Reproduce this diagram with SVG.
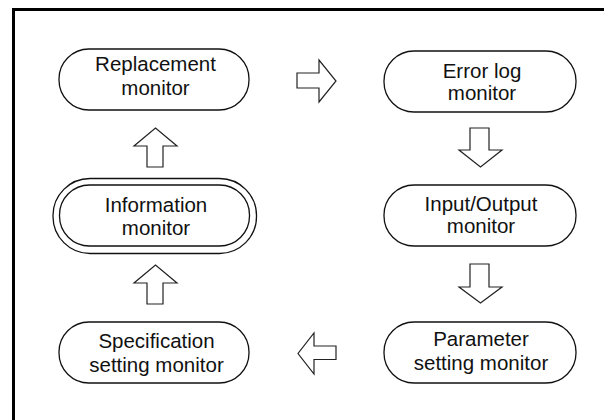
<svg xmlns="http://www.w3.org/2000/svg" width="604" height="420" viewBox="0 0 604 420">
<style>
.node{fill:#fff;stroke:#111;stroke-width:1.3}
.arr{fill:#fff;stroke:#222;stroke-width:1.2;stroke-linejoin:miter}
.t{font-family:"Liberation Sans",Arial,sans-serif;font-size:20.5px;fill:#111;text-anchor:middle}
.frame{stroke:#000;stroke-width:3;fill:none}
</style>
<rect x="0" y="0" width="604" height="420" fill="#fff"/>
<path class="frame" d="M13.5,420 V9.5 H604"/>
<g id="connectors">
<polygon class="arr" points="297,73 319,73 319,60 336,81 319,102 319,88 297,88"/>
<polygon class="arr" points="470,128 489,128 489,150 502,150 480.5,167 459,150 470,150"/>
<polygon class="arr" points="470,264 489,264 489,287 502,287 480.5,303 459,287 470,287"/>
<polygon class="arr" points="336,346 314,346 314,333 298,353.5 314,374 314,359.5 336,359.5"/>
<polygon class="arr" points="147,167 147,146 134,146 155.5,128 177,146 163,146 163,167"/>
<polygon class="arr" points="147,304 147,283 134,283 155.5,265 177,283 163,283 163,304"/>
</g>
<g id="replacement">
<rect class="node" x="59" y="49" width="190" height="61" rx="30" ry="30"/>
<text class="t" x="155.5" y="71">Replacement</text>
<text class="t" x="155.5" y="95">monitor</text>
</g>
<g id="errorlog">
<rect class="node" x="384" y="51" width="192" height="61" rx="30" ry="30"/>
<text class="t" x="482" y="78">Error log</text>
<text class="t" x="482" y="100">monitor</text>
</g>
<g id="information">
<rect class="node" x="53" y="178.5" width="203.5" height="75" rx="37" ry="37"/>
<rect class="node" x="59.5" y="185" width="190" height="61" rx="30" ry="30"/>
<text class="t" x="156" y="212">Information</text>
<text class="t" x="156" y="235">monitor</text>
</g>
<g id="inputoutput">
<rect class="node" x="384" y="185" width="192" height="61" rx="30" ry="30"/>
<text class="t" x="481" y="211">Input/Output</text>
<text class="t" x="481" y="233">monitor</text>
</g>
<g id="specification">
<rect class="node" x="59" y="322" width="190" height="61" rx="30" ry="30"/>
<text class="t" x="156.5" y="348">Specification</text>
<text class="t" x="156.5" y="372">setting monitor</text>
</g>
<g id="parameter">
<rect class="node" x="384" y="322" width="192" height="61" rx="30" ry="30"/>
<text class="t" x="481" y="346">Parameter</text>
<text class="t" x="481" y="369.5">setting monitor</text>
</g>
</svg>
